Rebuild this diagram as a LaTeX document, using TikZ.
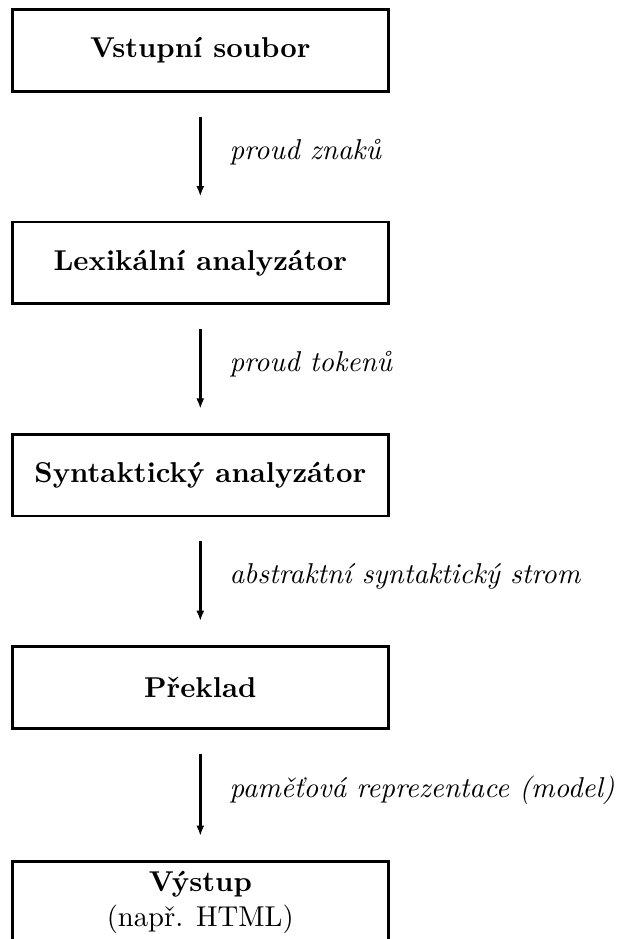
\documentclass[tikz,border=0pt]{standalone}
\usepackage{fontspec}
\usetikzlibrary{arrows.meta}
\begin{document}
\begin{tikzpicture}[x=0.3484pt,y=-0.3484pt,
  box/.style={draw,line width=1pt,minimum width=4.6cm,minimum height=1cm,
    align=center,font=\bfseries,inner sep=3pt},
  arr/.style={line width=1pt,-{Latex[length=3.6pt,width=2.8pt]},
    shorten <=8.4pt,shorten >=8.4pt},
  lbl/.style={midway,anchor=base west,inner sep=0pt,xshift=9.7pt,yshift=-0.9pt,
    font=\itshape}]
\useasboundingbox (0,0) rectangle (622,939);
\clip (0,0) rectangle (622,939);
\node[box] (b1) at (200.3,50.5) {Vstupní soubor};
\node[box] (b2) at (200.3,262.8) {Lexikální analyzátor};
\node[box] (b3) at (200.3,475.1) {Syntaktický analyzátor};
\node[box] (b4) at (200.3,687.4) {Překlad};
\node[box,anchor=north] (b5) at (200.3,860) {Výstup\\{\normalfont (např. HTML)}};
\draw[arr] (b1) -- node[lbl]{proud znaků} (b2);
\draw[arr] (b2) -- node[lbl]{proud tokenů} (b3);
\draw[arr] (b3) -- node[lbl]{abstraktní syntaktický strom} (b4);
\draw[arr] (b4) -- node[lbl]{paměťová reprezentace (model)} (b5);
\end{tikzpicture}
\end{document}
